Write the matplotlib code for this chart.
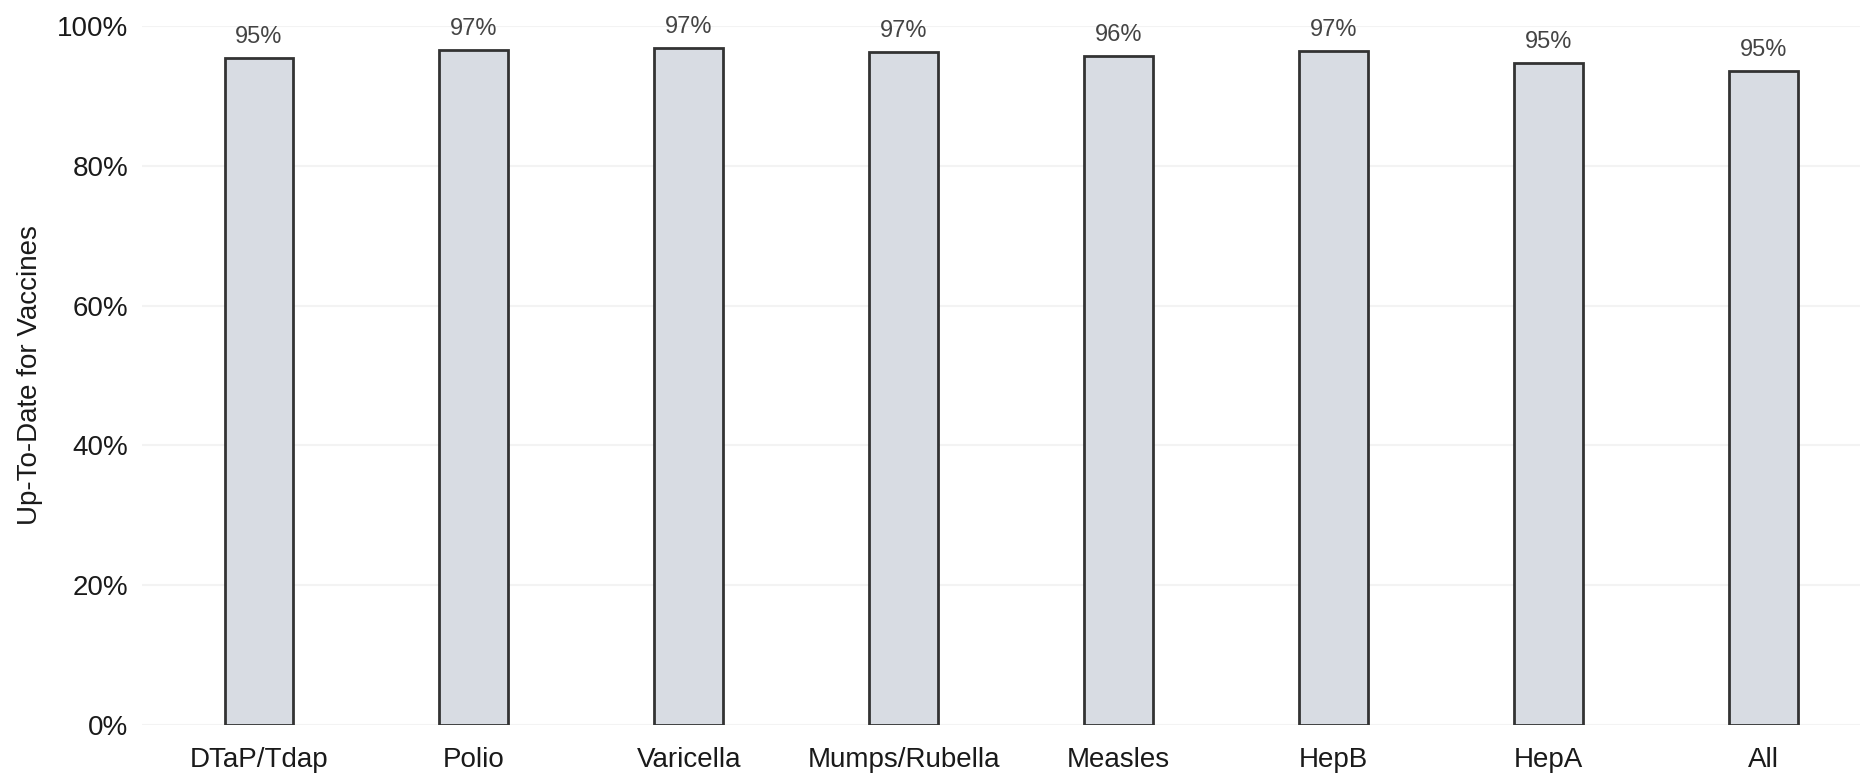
import matplotlib
matplotlib.use("Agg")
import matplotlib.pyplot as plt

categories = ["DTaP/Tdap", "Polio", "Varicella", "Mumps/Rubella", "Measles", "HepB", "HepA", "All"]
values = [95.4, 96.6, 96.9, 96.3, 95.7, 96.4, 94.7, 93.6]
value_labels = ["95%", "97%", "97%", "97%", "96%", "97%", "95%", "95%"]
yticks = [0, 20, 40, 60, 80, 100]
ytick_labels = ["0%", "20%", "40%", "60%", "80%", "100%"]

plt.rcParams['font.family'] = ['Liberation Sans', 'DejaVu Sans']

W, H = 1868, 781
fig = plt.figure(figsize=(W / 100, H / 100), dpi=100)
left, right, bottom, top = 142, 1860, 725, 26
ax = fig.add_axes([left / W, (H - bottom) / H, (right - left) / W, (bottom - top) / H])

x = list(range(len(categories)))
ax.bar(x, values, width=0.32, color="#d8dce3", edgecolor="#333333", linewidth=2, zorder=3)

for xi, v, lab in zip(x, values, value_labels):
    ax.annotate(lab, (xi, v), xytext=(0, 7), textcoords="offset points",
                ha="center", va="bottom", fontsize=17, color="#444444")

ax.set_xlim(-0.544, 7.45)
ax.set_ylim(0, 100)
ax.set_yticks(yticks)
ax.set_yticklabels(ytick_labels, fontsize=20, color="#1a1a1a")
ax.set_xticks(x)
ax.set_xticklabels(categories, fontsize=20, color="#1a1a1a")
ax.tick_params(axis="both", length=0)
ax.tick_params(axis="y", pad=10)
ax.tick_params(axis="x", pad=16)

ax.set_ylabel("Up-To-Date for Vaccines", fontsize=20, color="#1a1a1a")
ax.yaxis.set_label_coords((43 - left) / (right - left), 0.5)

ax.grid(axis="y", color="#f3f3f3", linewidth=1.5, zorder=0)
for s in ax.spines.values():
    s.set_visible(False)

fig.savefig("out.png", dpi=100)
